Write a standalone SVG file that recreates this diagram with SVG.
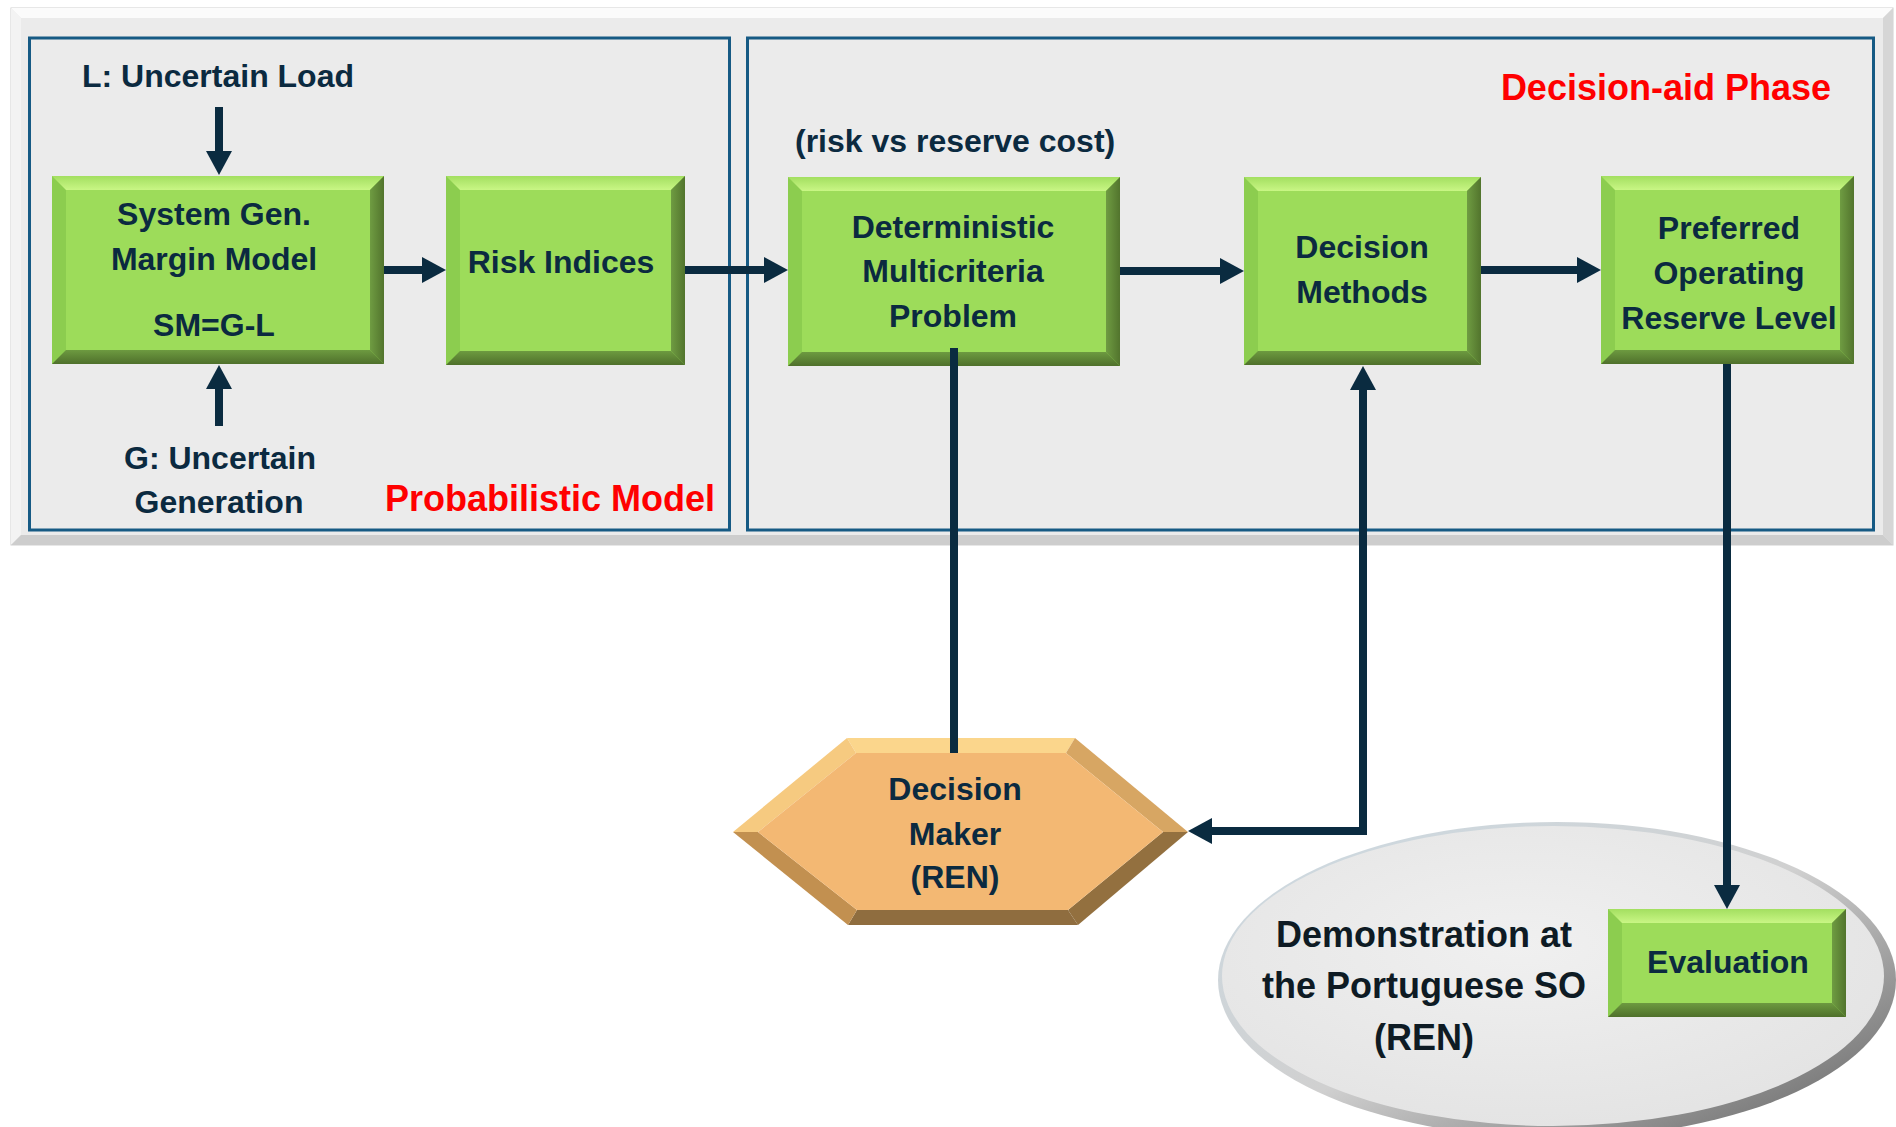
<svg xmlns="http://www.w3.org/2000/svg" width="1896" height="1127" viewBox="0 0 1896 1127">
<style>
.t{font-family:"Liberation Sans",Arial,sans-serif;font-weight:bold;font-size:32px;fill:#0b2a40;text-anchor:middle}
.ts{font-family:"Liberation Sans",Arial,sans-serif;font-weight:bold;font-size:32px;fill:#0b2a40;text-anchor:start}
.red{font-family:"Liberation Sans",Arial,sans-serif;font-weight:bold;font-size:36px;fill:#ff0000;text-anchor:end}
.demo{font-family:"Liberation Sans",Arial,sans-serif;font-weight:bold;font-size:36px;fill:#0e1b24;text-anchor:middle}
.frame{fill:none;stroke:#165a84;stroke-width:3}
.gl{fill:#8ccd4f}
.gt{fill:url(#gTop)}
.gr{fill:url(#gRight)}
.gb{fill:url(#gBot)}
.gf{fill:#9ddc5a}
.con{fill:none;stroke:#0a2b40;stroke-width:8}
</style>
<defs>
<linearGradient id="gTop" x1="0" y1="0" x2="0" y2="1"><stop offset="0" stop-color="#a3df60"/><stop offset="1" stop-color="#c9f685"/></linearGradient>
<linearGradient id="gBot" x1="0" y1="0" x2="0" y2="1"><stop offset="0" stop-color="#6d9a40"/><stop offset="1" stop-color="#4f702b"/></linearGradient>
<linearGradient id="gRight" x1="0" y1="0" x2="1" y2="0"><stop offset="0" stop-color="#6f9c42"/><stop offset="1" stop-color="#52742d"/></linearGradient>
<linearGradient id="rim" x1="0" y1="0" x2="1" y2="1"><stop offset="0" stop-color="#cddbe4"/><stop offset="0.5" stop-color="#d0d0d0"/><stop offset="1" stop-color="#5e5e5e"/></linearGradient>
<radialGradient id="ellFace" cx="0.45" cy="0.4" r="0.6"><stop offset="0" stop-color="#f0f0f0"/><stop offset="1" stop-color="#e4e4e4"/></radialGradient>
<marker id="ah" markerUnits="userSpaceOnUse" viewBox="0 0 24 26" markerWidth="24" markerHeight="26" refX="0" refY="13" orient="auto-start-reverse"><path d="M0,0 L24,13 L0,26 z" fill="#0a2b40"/></marker>
</defs>
<rect width="1896" height="1127" fill="#ffffff"/>
<g id="panel">
<rect x="11" y="8" width="1882" height="537" fill="#ebebeb" stroke="#cfcfcf" stroke-width="1"/>
<polygon points="11,8 1893,8 1883,18 21,18" fill="#fbfbfb"/>
<polygon points="11,8 21,18 21,535 11,545" fill="#f3f3f3"/>
<polygon points="1893,8 1893,545 1883,535 1883,18" fill="#d6d6d6"/>
<polygon points="11,545 1893,545 1883,535 21,535" fill="#cdcdcd"/>
</g>
<g id="probabilistic-model">
<rect class="frame" x="29.5" y="38" width="700" height="492"/>
<text class="red" x="715" y="511">Probabilistic Model</text>
<text class="t" x="218" y="87">L: Uncertain Load</text>
<text class="t" x="220" y="469">G: Uncertain</text>
<text class="t" x="219" y="513">Generation</text>
</g>
<g id="decision-aid-phase">
<rect class="frame" x="747.5" y="38" width="1126" height="492"/>
<text class="red" x="1831" y="100">Decision-aid Phase</text>
<text class="ts" x="795" y="152">(risk vs reserve cost)</text>
</g>
<g id="system-gen">
<rect class="gl" x="52" y="176" width="332" height="188"/>
<polygon class="gt" points="52,176 384,176 370,190 66,190"/>
<polygon class="gr" points="384,176 384,364 370,350 370,190"/>
<polygon class="gb" points="52,364 384,364 370,350 66,350"/>
<rect class="gf" x="66" y="190" width="304" height="160"/>
<text class="t" x="214" y="225">System Gen.</text>
<text class="t" x="214" y="270">Margin Model</text>
<text class="t" x="214" y="336">SM=G-L</text>
</g>
<g id="risk-indices">
<rect class="gl" x="446" y="176" width="239" height="189"/>
<polygon class="gt" points="446,176 685,176 671,190 460,190"/>
<polygon class="gr" points="685,176 685,365 671,351 671,190"/>
<polygon class="gb" points="446,365 685,365 671,351 460,351"/>
<rect class="gf" x="460" y="190" width="211" height="161"/>
<text class="t" x="561" y="273">Risk Indices</text>
</g>
<g id="deterministic">
<rect class="gl" x="788" y="177" width="332" height="189"/>
<polygon class="gt" points="788,177 1120,177 1106,191 802,191"/>
<polygon class="gr" points="1120,177 1120,366 1106,352 1106,191"/>
<polygon class="gb" points="788,366 1120,366 1106,352 802,352"/>
<rect class="gf" x="802" y="191" width="304" height="161"/>
<text class="t" x="953" y="238">Deterministic</text>
<text class="t" x="953" y="282">Multicriteria</text>
<text class="t" x="953" y="327">Problem</text>
</g>
<g id="decision-methods">
<rect class="gl" x="1244" y="177" width="237" height="188"/>
<polygon class="gt" points="1244,177 1481,177 1467,191 1258,191"/>
<polygon class="gr" points="1481,177 1481,365 1467,351 1467,191"/>
<polygon class="gb" points="1244,365 1481,365 1467,351 1258,351"/>
<rect class="gf" x="1258" y="191" width="209" height="160"/>
<text class="t" x="1362" y="258">Decision</text>
<text class="t" x="1362" y="303">Methods</text>
</g>
<g id="preferred">
<rect class="gl" x="1601" y="176" width="253" height="188"/>
<polygon class="gt" points="1601,176 1854,176 1840,190 1615,190"/>
<polygon class="gr" points="1854,176 1854,364 1840,350 1840,190"/>
<polygon class="gb" points="1601,364 1854,364 1840,350 1615,350"/>
<rect class="gf" x="1615" y="190" width="225" height="160"/>
<text class="t" x="1729" y="239">Preferred</text>
<text class="t" x="1729" y="284">Operating</text>
<text class="t" x="1729" y="329">Reserve Level</text>
</g>
<g id="decision-maker">
<polygon points="847,738 1075,738 1066,753 856,753" fill="#fbd68c"/>
<polygon points="733,832 847,738 856,753 758,832" fill="#f6ca80"/>
<polygon points="1075,738 1188,832 1163,832 1066,753" fill="#d7a663"/>
<polygon points="1188,832 1078,925 1068,910 1163,832" fill="#93703f"/>
<polygon points="1078,925 848,925 857,910 1068,910" fill="#8f6d3f"/>
<polygon points="848,925 733,832 758,832 857,910" fill="#c29050"/>
<polygon points="758,832 856,753 1066,753 1163,832 1068,910 857,910" fill="#f3b873"/>
<text class="t" x="955" y="800">Decision</text>
<text class="t" x="955" y="845">Maker</text>
<text class="t" x="955" y="888">(REN)</text>
</g>
<g id="demonstration">
<ellipse cx="1557" cy="980" rx="339" ry="158" fill="url(#rim)"/>
<ellipse cx="1553" cy="976" rx="331" ry="150" fill="url(#ellFace)"/>
<text class="demo" x="1424" y="947">Demonstration at</text>
<text class="demo" x="1424" y="998">the Portuguese SO</text>
<text class="demo" x="1424" y="1050">(REN)</text>
</g>
<g id="evaluation">
<rect class="gl" x="1608" y="909" width="238" height="108"/>
<polygon class="gt" points="1608,909 1846,909 1832,923 1622,923"/>
<polygon class="gr" points="1846,909 1846,1017 1832,1003 1832,923"/>
<polygon class="gb" points="1608,1017 1846,1017 1832,1003 1622,1003"/>
<rect class="gf" x="1622" y="923" width="210" height="80"/>
<text class="t" x="1728" y="973">Evaluation</text>
</g>
<g id="connectors">
<path class="con" d="M219,107 V151" marker-end="url(#ah)"/>
<path class="con" d="M219,426 V389" marker-end="url(#ah)"/>
<path class="con" d="M384,270 H422" marker-end="url(#ah)"/>
<path class="con" d="M685,270 H764" marker-end="url(#ah)"/>
<path class="con" d="M1120,271 H1220" marker-end="url(#ah)"/>
<path class="con" d="M1481,270 H1577" marker-end="url(#ah)"/>
<path class="con" d="M954,348 V753"/>
<path class="con" d="M1363,390 V831 H1212" marker-start="url(#ah)" marker-end="url(#ah)"/>
<path class="con" d="M1727,364 V885" marker-end="url(#ah)"/>
</g>
</svg>
